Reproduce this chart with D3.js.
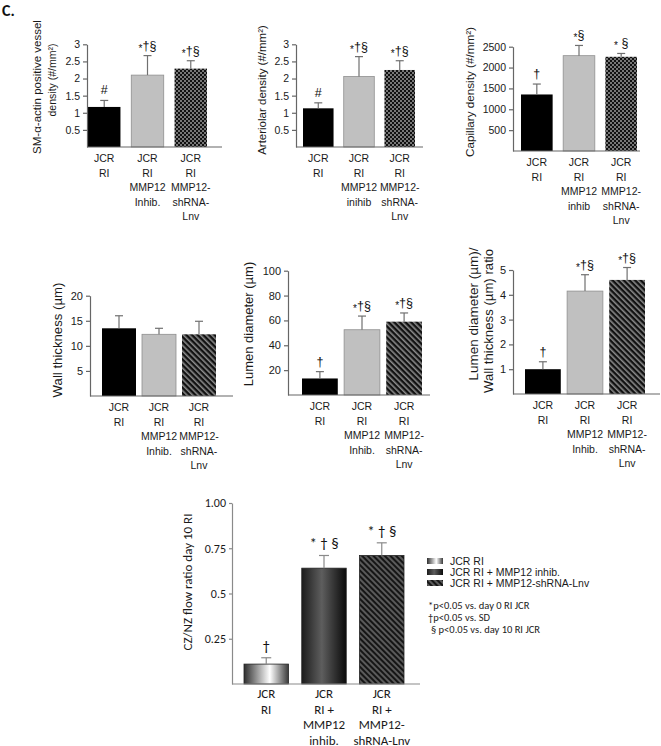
<!DOCTYPE html>
<html><head><meta charset="utf-8">
<script src="https://cdn.jsdelivr.net/npm/d3@7"></script>
<style>body{margin:0;background:#fff}svg{display:block}</style>
</head><body>
<svg id="c" width="661" height="746"></svg>
<script>
// ---------------- DATA ----------------
const labelsTopA = [["JCR","RI"],["JCR","RI","MMP12","Inhib."],["JCR","RI","MMP12-","shRNA-","Lnv"]];
const labelsTopB = [["JCR","RI"],["JCR","RI","MMP12","inihib"],["JCR","RI","MMP12-","shRNA-","Lnv"]];
const labelsTopC = [["JCR","RI"],["JCR","RI","MMP12","inhib"],["JCR","RI","MMP12-","shRNA-","Lnv"]];
const labelsMid  = [["JCR","RI"],["JCR","RI","MMP12","Inhib."],["JCR","RI","MMP12-","shRNA-","Lnv"]];
const labelsFlow = [["JCR","RI"],["JCR","RI +","MMP12","inhib."],["JCR","RI +","MMP12-","shRNA-Lnv"]];
const legendGroups = ["JCR RI","JCR RI + MMP12  inhib.","JCR RI + MMP12-shRNA-Lnv"];
const footnotes = [["*","p<0.05 vs. day 0 RI JCR"],["†","p<0.05 vs. SD"],["§"," p<0.05 vs. day 10 RI JCR"]];

const smActinMean = [1.17, 2.10, 2.29];
const smActinSD   = [0.19, 0.57, 0.23];
const smActinSig  = ["#","*†§","*†§"];
const smActinTicks = [0.5,1,1.5,2,2.5,3];

const arteriolarMean = [1.13, 2.06, 2.25];
const arteriolarSD   = [0.16, 0.58, 0.27];
const arteriolarSig  = ["#","*†§","*†§"];
const arteriolarTicks = [0.5,1,1.5,2,2.5,3];

const capillaryMean = [1355, 2285, 2258];
const capillarySD   = [250, 245, 80];
const capillarySig  = ["†","*§","* §"];
const capillaryTicks = [500,1000,1500,2000,2500];

const wallMean = [13.5, 12.3, 12.3];
const wallSD   = [2.5, 1.2, 2.6];
const wallSig  = ["","",""];
const wallTicks = [5,10,15,20];

const lumenMean = [13.3, 52.5, 59];
const lumenSD   = [5.5, 11, 7];
const lumenSig  = ["†","*†§","*†§"];
const lumenTicks = [20,40,60,80,100];

const ratioMean = [1.0, 4.15, 4.6];
const ratioSD   = [0.3, 0.66, 0.5];
const ratioSig  = ["†","*†§","*†§"];
const ratioTicks = [1,2,3,4,5];

const flowMean = [0.11, 0.64, 0.71];
const flowSD   = [0.035, 0.07, 0.07];
const flowSig  = ["†","* † §","* † §"];
const flowTicks = [0.25,0.5,0.75,1.0];
const flowTickLabels = ["0.25","0.5","0.75","1.00"];

// ---------------- DRAWING ----------------
const svg = d3.select("#c");
const defs = svg.append("defs");

const chk = defs.append("pattern").attr("id","checker").attr("patternUnits","userSpaceOnUse")
  .attr("width",4).attr("height",4);
chk.append("rect").attr("width",4).attr("height",4).attr("fill","#111");
chk.append("rect").attr("width",2).attr("height",2).attr("fill","#777");
chk.append("rect").attr("x",2).attr("y",2).attr("width",2).attr("height",2).attr("fill","#777");

const st = defs.append("pattern").attr("id","stripes").attr("patternUnits","userSpaceOnUse")
  .attr("width",4).attr("height",4).attr("patternTransform","rotate(-45)");
st.append("rect").attr("width",4).attr("height",4).attr("fill","#111");
st.append("rect").attr("width",1.6).attr("height",4).attr("fill","#8a8a8a");

const st2 = defs.append("pattern").attr("id","stripes2").attr("patternUnits","userSpaceOnUse")
  .attr("width",4).attr("height",4).attr("patternTransform","rotate(-45)");
st2.append("rect").attr("width",4).attr("height",4).attr("fill","#151515");
st2.append("rect").attr("width",2).attr("height",4).attr("fill","#5a5a5a");

const g1 = defs.append("linearGradient").attr("id","grad1");
[[0,"#2e2e2e"],[0.58,"#ffffff"],[1,"#3a3a3a"]].forEach(s=>g1.append("stop").attr("offset",s[0]).attr("stop-color",s[1]));
const g2 = defs.append("linearGradient").attr("id","grad2");
[[0,"#1c1c1c"],[0.45,"#5e5e5e"],[1,"#0a0a0a"]].forEach(s=>g2.append("stop").attr("offset",s[0]).attr("stop-color",s[1]));

const ARIAL = "Liberation Sans, Arial, sans-serif";
const CAL = "Carlito, Lato, sans-serif";

svg.append("text").attr("x",2).attr("y",16).attr("font-family",CAL).attr("font-weight","bold")
  .attr("font-size",16).attr("fill","#111").text("C.");

const topFills = ["#000","#c0c0c0","url(#checker)"];
const midFills = ["#000","#c0c0c0","url(#stripes)"];
const botFills = ["url(#grad1)","url(#grad2)","url(#stripes2)"];

const panels = [
  {mean:smActinMean, sd:smActinSD, sig:smActinSig, ticks:smActinTicks, labels:labelsTopA, fills:topFills,
   ax:87, axEnd:222, bars:[88,207], pad:0.25, y0:147, yTop:44.3, max:3,
   ylab:["SM-α-actin positive vessel","density (#/mm²)"], ylx:[37,52], yly:[87,80], ylfs:[11.5,10.5], row:"top"},
  {mean:arteriolarMean, sd:arteriolarSD, sig:arteriolarSig, ticks:arteriolarTicks, labels:labelsTopB, fills:topFills,
   ax:296, axEnd:423, bars:[303,415], pad:0.25, y0:147, yTop:44.3, max:3,
   ylab:["Arteriolar density (#/mm²)"], ylx:[262], yly:[90], ylfs:[11.5], row:"top"},
  {mean:capillaryMean, sd:capillarySD, sig:capillarySig, ticks:capillaryTicks, labels:labelsTopC, fills:topFills,
   ax:513, axEnd:640, bars:[521,637], pad:0.25, y0:151, yTop:46.7, max:2500,
   ylab:["Capillary density (#/mm²)"], ylx:[470], yly:[92], ylfs:[11.7], row:"top"},
  {mean:wallMean, sd:wallSD, sig:wallSig, ticks:wallTicks, labels:labelsMid, fills:midFills,
   ax:90, axEnd:233, bars:[102,216], pad:0.15, y0:396, yTop:295.7, max:20,
   ylab:["Wall thickness (µm)"], ylx:[57], yly:[340], ylfs:[13.2], row:"mid"},
  {mean:lumenMean, sd:lumenSD, sig:lumenSig, ticks:lumenTicks, labels:labelsMid, fills:midFills,
   ax:288, axEnd:430, bars:[302,422], pad:0.15, y0:395, yTop:270.7, max:100,
   ylab:["Lumen diameter (µm)"], ylx:[248], yly:[324], ylfs:[13], row:"mid"},
  {mean:ratioMean, sd:ratioSD, sig:ratioSig, ticks:ratioTicks, labels:labelsMid, fills:midFills,
   ax:513, axEnd:660, bars:[525,645], pad:0.15, y0:394, yTop:270, max:5,
   ylab:["Lumen diameter (µm)/","Wall thickness (µm) ratio"], ylx:[473,488], yly:[314,321], ylfs:[13.5,13.2], row:"mid"},
  {mean:flowMean, sd:flowSD, sig:flowSig, ticks:flowTicks, tickLabels:flowTickLabels, labels:labelsFlow, fills:botFills,
   ax:232, axEnd:420, bars:[244,404], pad:0.23, y0:684, yTop:503, max:1,
   ylab:["CZ/NZ flow ratio day 10 RI"], ylx:[187], yly:[582], ylfs:[13], row:"bot"}
];

panels.forEach(p => {
  const bot = p.row === "bot";
  const font = bot ? CAL : ARIAL;
  const tickFs = bot ? 12 : (p.row==="top" ? 10.5 : 11);
  const xFs = bot ? 13 : 10.5;
  const axisCol = bot ? "#8a8a8a" : "#666";
  const g = svg.append("g");
  const idx = d3.range(p.mean.length);
  const x = d3.scaleBand().domain(idx).range(p.bars).paddingInner(p.pad).paddingOuter(0);
  const y = d3.scaleLinear().domain([0,p.max]).range([p.y0,p.yTop]);

  g.selectAll("rect.bar").data(idx).join("rect").attr("class","bar")
    .attr("x", i=>x(i)).attr("width", x.bandwidth())
    .attr("y", i=>y(p.mean[i])).attr("height", i=>p.y0 - y(p.mean[i]))
    .attr("fill", i=>p.fills[i])
    .attr("stroke", i => i===1 && !bot ? "#8f8f8f" : (bot ? "#222" : "none"))
    .attr("stroke-width", 0.8);

  const ec = bot ? "#8a8a8a" : "#707070";
  const cap = bot ? 5 : 4;
  idx.forEach(i => {
    const cx = x(i) + x.bandwidth()/2;
    const yt = y(p.mean[i] + p.sd[i]);
    g.append("line").attr("x1",cx).attr("x2",cx).attr("y1",y(p.mean[i])).attr("y2",yt)
      .attr("stroke",ec).attr("stroke-width",1.2);
    g.append("line").attr("x1",cx-cap).attr("x2",cx+cap).attr("y1",yt).attr("y2",yt)
      .attr("stroke",ec).attr("stroke-width",1.2);
    const s = p.sig[i];
    if (s) {
      const t = g.append("text").attr("x",cx).attr("y", yt - (bot ? 7 : 6))
        .attr("text-anchor","middle").attr("font-family",font).attr("fill","#111")
        .attr("font-size", bot ? 15 : 12.5);
      if (s[0] === "*") {
        t.append("tspan").attr("font-size", bot ? 15 : 10).attr("dy", bot ? 0 : 2).text("*");
        t.append("tspan").attr("dy", bot ? 0 : -2).text(s.slice(1));
      } else t.text(s);
    }
  });

  const ax = d3.axisLeft(y).tickValues(p.ticks).tickSize(bot?3:4).tickSizeOuter(0).tickPadding(3)
    .tickFormat((d,i) => p.tickLabels ? p.tickLabels[i] : String(d));
  const ag = g.append("g").attr("transform",`translate(${p.ax},0)`).call(ax);
  ag.attr("font-family",font);
  ag.select(".domain").attr("stroke",axisCol).attr("stroke-width",1.2);
  ag.selectAll(".tick line").attr("stroke",axisCol).attr("stroke-width",1.2);
  ag.selectAll(".tick text").attr("font-family",font).attr("font-size",tickFs).attr("fill","#1a1a1a");

  g.append("line").attr("x1",p.ax).attr("x2",p.axEnd).attr("y1",p.y0).attr("y2",p.y0)
    .attr("stroke",axisCol).attr("stroke-width",1.2);

  const off = bot ? 14 : 15, lh = bot ? 15.5 : 14.5;
  idx.forEach(i => {
    const cx = x(i) + x.bandwidth()/2;
    const t = g.append("text").attr("text-anchor","middle").attr("font-family",font)
      .attr("font-size",xFs).attr("fill","#1a1a1a");
    p.labels[i].forEach((ln,k) => t.append("tspan").attr("x",cx).attr("y",p.y0+off+k*lh).text(ln));
  });

  p.ylab.forEach((ln,k) => {
    g.append("text").attr("transform",`translate(${p.ylx[k]},${p.yly[k]}) rotate(-90)`)
      .attr("text-anchor","middle").attr("dy","0.35em").attr("font-family",font)
      .attr("font-size",p.ylfs[k]).attr("fill","#1a1a1a").text(ln);
  });
});

const lg = svg.append("g");
const legFills = ["url(#grad1)","url(#grad2)","url(#stripes2)"];
legendGroups.forEach((name,i) => {
  const yy = 561 + i*11;
  lg.append("rect").attr("x",427).attr("y",yy-3).attr("width",16).attr("height",6).attr("fill",legFills[i]);
  lg.append("text").attr("x",450).attr("y",yy).attr("dy","0.35em").attr("font-family",ARIAL)
    .attr("font-size",10.5).attr("fill","#1a1a1a").text(name);
});
footnotes.forEach((f,i) => {
  const t = lg.append("text").attr("x", i===2 ? 431 : 428).attr("y",609 + i*12)
    .attr("font-family",CAL).attr("font-size",10.5).attr("fill","#1a1a1a");
  t.append("tspan").text(f[0]);
  t.append("tspan").text(f[1]);
});
</script>
</body></html>
